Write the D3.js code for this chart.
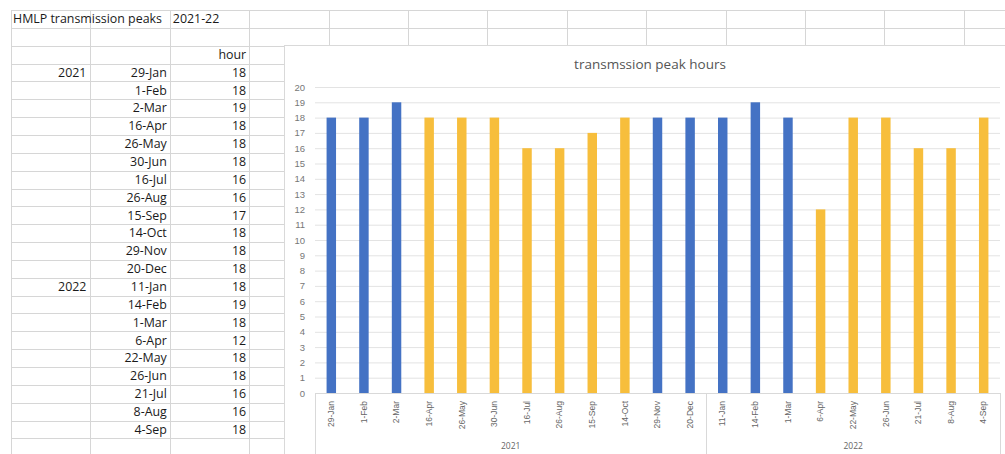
<!DOCTYPE html>
<html>
<head>
<meta charset="utf-8">
<script src="https://cdn.jsdelivr.net/npm/d3@7"></script>
<style>
  body { margin: 0; background: #fff; }
  svg { display: block; }
</style>
</head>
<body>
<div id="sheet"></div>
<script>
(() => {
  const width = 1005;
  const height = 454;

  // data read from the sheet
  const sheetTitle = "HMLP transmission peaks";
  const sheetPeriod = "2021-22";
  const years = ["2021", "2022"];
  const dates2021 = ["29-Jan", "1-Feb", "2-Mar", "16-Apr", "26-May", "30-Jun", "16-Jul", "26-Aug", "15-Sep", "14-Oct", "29-Nov", "20-Dec"];
  const dates2022 = ["11-Jan", "14-Feb", "1-Mar", "6-Apr", "22-May", "26-Jun", "21-Jul", "8-Aug", "4-Sep"];
  const hours2021 = [18, 18, 19, 18, 18, 18, 16, 16, 17, 18, 18, 18];
  const hours2022 = [18, 19, 18, 12, 18, 18, 16, 16, 18];
  const winterDates = ["29-Jan", "1-Feb", "2-Mar", "29-Nov", "20-Dec", "11-Jan", "14-Feb", "1-Mar"];
  const yTicks = d3.range(0, 21);

  const rows = [];
  dates2021.forEach((d, i) => rows.push({ year: "2021", date: d, hour: hours2021[i], key: "2021-" + d }));
  dates2022.forEach((d, i) => rows.push({ year: "2022", date: d, hour: hours2022[i], key: "2022-" + d }));

  const svg = d3.select("#sheet").append("svg").attr("width", width).attr("height", height)
    .style("font-family", "'Open Sans', sans-serif");

  // spreadsheet grid
  const rowH = 17.85, top = 10, colW = 79.4, left = 11;
  const grid = svg.append("g").attr("stroke", "#d6d6d6").attr("stroke-width", 1);
  for (let r = 0; r <= 25; r++) {
    const y = Math.round(top + r * rowH) + 0.5;
    grid.append("line").attr("x1", left).attr("x2", r <= 2 ? width : 284).attr("y1", y).attr("y2", y);
  }
  for (let c = 0; c <= 13; c++) {
    const x = Math.round(left + c * colW) + 0.5;
    grid.append("line").attr("x1", x).attr("x2", x).attr("y1", top).attr("y2", c <= 3 ? height : top + 2 * rowH);
  }

  const cellText = (text, x, r, anchor) => svg.append("text")
    .attr("x", x).attr("y", top + r * rowH + rowH / 2 + 4.3)
    .attr("text-anchor", anchor).attr("font-size", 12.4).attr("font-weight", 500).attr("fill", "#1a1a1a")
    .text(text);

  cellText(sheetTitle, left + 2, 0, "start");
  cellText(sheetPeriod, left + 2 * colW + 3, 0, "start");
  cellText("hour", left + 3 * colW - 3, 2, "end");
  rows.forEach((d, i) => {
    const r = i + 3;
    if (i === 0 || rows[i - 1].year !== d.year) cellText(d.year, left + colW - 4, r, "end");
    cellText(d.date, left + 2 * colW - 3, r, "end");
    cellText(d.hour, left + 3 * colW - 3, r, "end");
  });

  // chart box
  const chart = svg.append("g");
  chart.append("rect").attr("x", 284.5).attr("y", 45.5).attr("width", width - 284).attr("height", height - 45)
    .attr("fill", "#fff").attr("stroke", "#d9d9d9");

  chart.append("text").attr("x", 650).attr("y", 69).attr("text-anchor", "middle")
    .attr("font-size", 13.5).attr("fill", "#555").text("transmssion peak hours");

  const plot = { left: 315, right: 1000, top: 87, bottom: 393 };
  const x = d3.scaleBand().domain(rows.map(d => d.key)).range([plot.left, plot.right]).paddingInner(0.71).paddingOuter(0.355);
  const y = d3.scaleLinear().domain([0, 20]).range([plot.bottom, plot.top]);

  const yAxis = d3.axisLeft(y).tickValues(yTicks).tickSize(-(plot.right - plot.left)).tickPadding(10);
  const ya = chart.append("g").attr("transform", `translate(${plot.left},0)`).call(yAxis);
  ya.select(".domain").remove();
  ya.selectAll(".tick line").attr("stroke", "#e3e3e3");
  ya.selectAll(".tick text").attr("fill", "#777").attr("font-size", 9.5);

  chart.append("g").selectAll("rect").data(rows).join("rect")
    .attr("x", d => x(d.key)).attr("width", x.bandwidth())
    .attr("y", d => y(d.hour)).attr("height", d => y(0) - y(d.hour))
    .attr("fill", d => winterDates.includes(d.date) ? "#4472C4" : "#F7BE3C");

  // category axis with year groups
  const xAxis = d3.axisBottom(x).tickSize(0).tickFormat(k => k.slice(5));
  const xa = chart.append("g").attr("transform", `translate(0,${plot.bottom})`).call(xAxis);
  xa.select(".domain").attr("stroke", "#d9d9d9");
  xa.selectAll(".tick text")
    .attr("transform", "rotate(-90)").attr("text-anchor", "end")
    .attr("x", -8).attr("y", 0).attr("dy", "0.32em")
    .attr("fill", "#666").attr("font-size", 8.5);

  const step = x.step();
  const groups = years.map(yr => ({ year: yr, count: rows.filter(d => d.year === yr).length }));
  const bounds = [plot.left];
  let acc = plot.left;
  groups.forEach(g => { acc += g.count * step; bounds.push(acc); });
  chart.append("g").selectAll("line").data(bounds).join("line")
    .attr("x1", d => Math.round(d) + 0.5).attr("x2", d => Math.round(d) + 0.5)
    .attr("y1", plot.bottom).attr("y2", height)
    .attr("stroke", "#d9d9d9");
  chart.append("g").selectAll("text").data(groups).join("text")
    .attr("x", (d, i) => (bounds[i] + bounds[i + 1]) / 2).attr("y", 449)
    .attr("text-anchor", "middle").attr("font-size", 8.5).attr("fill", "#666")
    .text(d => d.year);
})();
</script>
</body>
</html>
